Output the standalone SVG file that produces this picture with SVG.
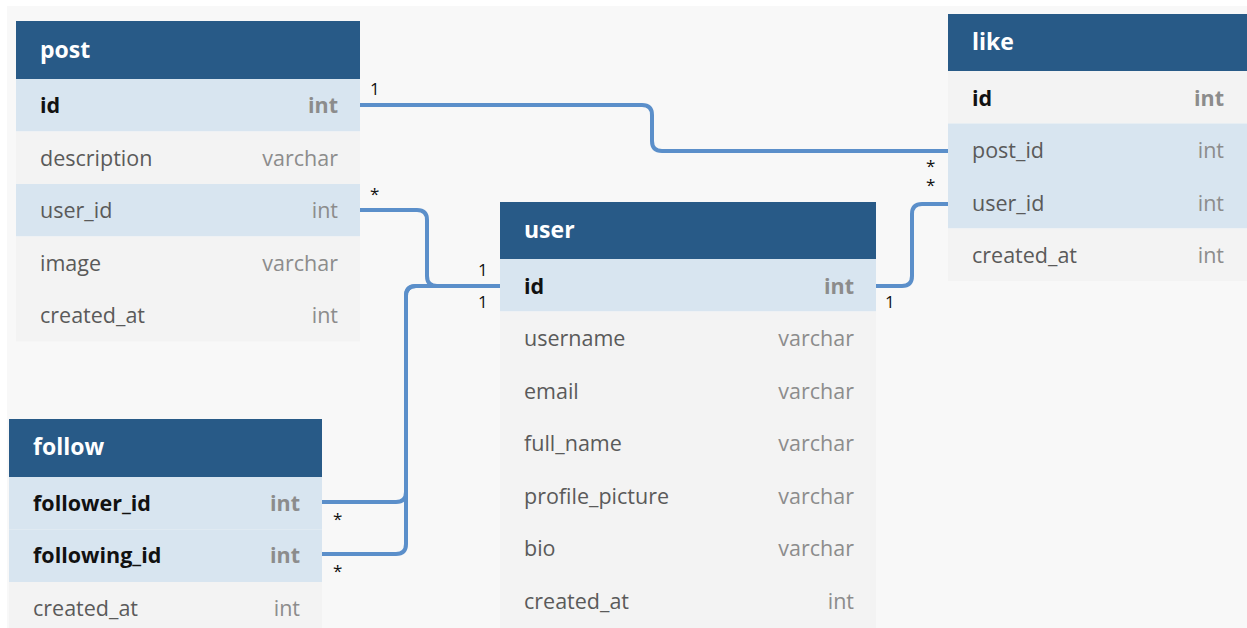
<svg xmlns="http://www.w3.org/2000/svg" width="1247" height="628" viewBox="0 0 1247 628">
<style>
.hdr{fill:#285a87}
.hl{fill:#d8e5f0}
.row{fill:#f3f3f3}
.ttl{font-family:"Open Sans","Noto Sans",sans-serif;font-size:23px;font-weight:700;fill:#ffffff}
.f{font-family:"Open Sans","Noto Sans",sans-serif;font-size:21.5px;fill:#5a5a5a}
.fb{font-family:"Open Sans","Noto Sans",sans-serif;font-size:21.5px;font-weight:700;fill:#111111}
.t{font-family:"Open Sans","Noto Sans",sans-serif;font-size:21.5px;fill:#8c8c8c;text-anchor:end}
.tb{font-family:"Open Sans","Noto Sans",sans-serif;font-size:21.5px;font-weight:700;fill:#8c8c8c;text-anchor:end}
.c{fill:none;stroke:#5b8fca;stroke-width:4}
.lb{font-family:"Open Sans","Noto Sans",sans-serif;font-size:17px;fill:#111111}
</style>
<rect x="0" y="0" width="1247" height="628" fill="#ffffff"/>
<rect x="7" y="6" width="1240" height="622" fill="#f8f8f8"/>

<g id="connectors">
<path class="c" d="M360,105 H642 Q652,105 652,115 V141 Q652,151 662,151 H948"/>
<path class="c" d="M360,210 H417 Q427,210 427,220 V276 Q427,286 437,286 H500"/>
<path class="c" d="M322,502 H396 Q406,502 406,492 V296 Q406,286 416,286 H500"/>
<path class="c" d="M322,554 H396 Q406,554 406,544 V296 Q406,286 416,286 H500"/>
<path class="c" d="M876,286 H902 Q912,286 912,276 V214 Q912,204 922,204 H948"/>
<text class="lb" x="370" y="95">1</text>
<text class="lb" x="370" y="200">*</text>
<text class="lb" x="478" y="276">1</text>
<text class="lb" x="478" y="308">1</text>
<text class="lb" x="333" y="525">*</text>
<text class="lb" x="333" y="577">*</text>
<text class="lb" x="885" y="308">1</text>
<text class="lb" x="926" y="172">*</text>
<text class="lb" x="926" y="191">*</text>
</g>

<g id="post">
<rect class="hdr" x="16" y="21" width="344" height="58"/>
<rect class="hl" x="16" y="79" width="344" height="52.5"/>
<rect class="row" x="16" y="131.5" width="344" height="52.5"/>
<rect class="hl" x="16" y="184" width="344" height="52.5"/>
<rect class="row" x="16" y="236.5" width="344" height="52.5"/>
<rect class="row" x="16" y="289" width="344" height="52.5"/>
<text class="ttl" x="40" y="58">post</text>
<text class="fb" x="40" y="113">id</text><text class="tb" x="338" y="113">int</text>
<text class="f" x="40" y="165.5">description</text><text class="t" x="338" y="165.5">varchar</text>
<text class="f" x="40" y="218">user_id</text><text class="t" x="338" y="218">int</text>
<text class="f" x="40" y="270.5">image</text><text class="t" x="338" y="270.5">varchar</text>
<text class="f" x="40" y="323">created_at</text><text class="t" x="338" y="323">int</text>
</g>

<g id="like">
<rect class="hdr" x="948" y="14" width="299" height="57"/>
<rect class="row" x="948" y="71" width="299" height="52.5"/>
<rect class="hl" x="948" y="123.5" width="299" height="52.5"/>
<rect class="hl" x="948" y="176" width="299" height="52.5"/>
<rect class="row" x="948" y="228.5" width="299" height="52.5"/>
<text class="ttl" x="972" y="50">like</text>
<text class="fb" x="972" y="105.5">id</text><text class="tb" x="1224" y="105.5">int</text>
<text class="f" x="972" y="158">post_id</text><text class="t" x="1224" y="158">int</text>
<text class="f" x="972" y="210.5">user_id</text><text class="t" x="1224" y="210.5">int</text>
<text class="f" x="972" y="263">created_at</text><text class="t" x="1224" y="263">int</text>
</g>

<g id="user">
<rect class="hdr" x="500" y="202" width="376" height="57"/>
<rect class="hl" x="500" y="259" width="376" height="52.5"/>
<rect class="row" x="500" y="311.5" width="376" height="316.5"/>
<text class="ttl" x="524" y="238">user</text>
<text class="fb" x="524" y="293.5">id</text><text class="tb" x="854" y="293.5">int</text>
<text class="f" x="524" y="346">username</text><text class="t" x="854" y="346">varchar</text>
<text class="f" x="524" y="398.5">email</text><text class="t" x="854" y="398.5">varchar</text>
<text class="f" x="524" y="451">full_name</text><text class="t" x="854" y="451">varchar</text>
<text class="f" x="524" y="503.5">profile_picture</text><text class="t" x="854" y="503.5">varchar</text>
<text class="f" x="524" y="556">bio</text><text class="t" x="854" y="556">varchar</text>
<text class="f" x="524" y="608.5">created_at</text><text class="t" x="854" y="608.5">int</text>
</g>

<g id="follow">
<rect class="hdr" x="9" y="419" width="313" height="58"/>
<rect class="hl" x="9" y="477" width="313" height="52.5"/>
<rect class="hl" x="9" y="529.5" width="313" height="52.5"/>
<rect class="row" x="9" y="582" width="313" height="46"/>
<text class="ttl" x="33" y="455">follow</text>
<text class="fb" x="33" y="510.5">follower_id</text><text class="tb" x="300" y="510.5">int</text>
<text class="fb" x="33" y="563">following_id</text><text class="tb" x="300" y="563">int</text>
<text class="f" x="33" y="615.5">created_at</text><text class="t" x="300" y="615.5">int</text>
</g>
</svg>
